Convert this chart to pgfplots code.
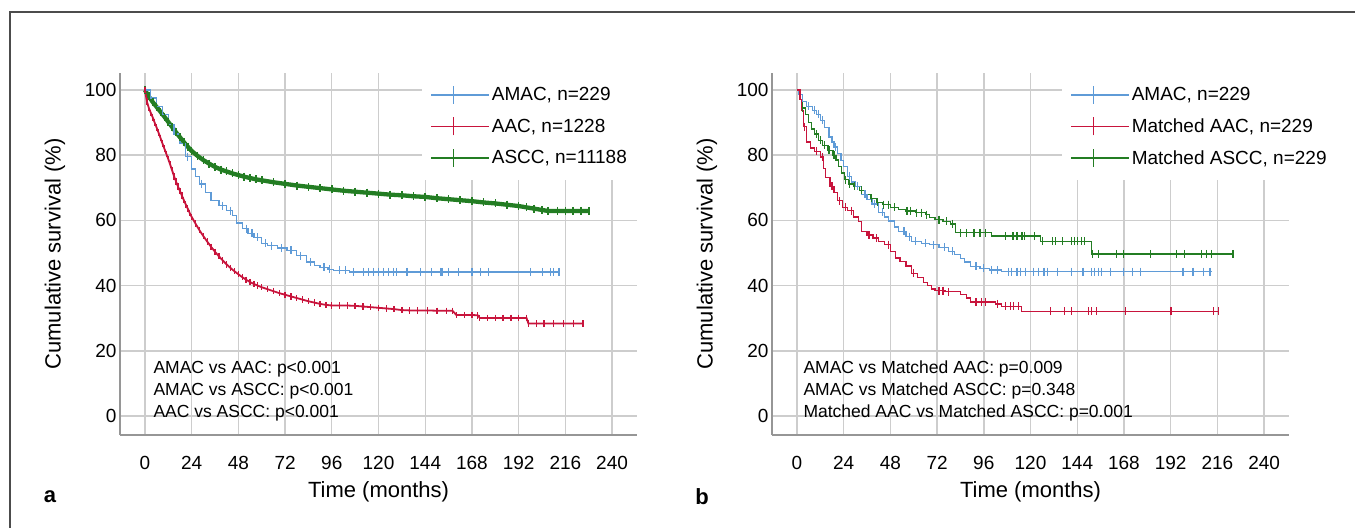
\documentclass[border=0pt]{standalone}
\usepackage{fontspec}
\setmainfont{Liberation Sans}
\usepackage{pgfplots}
\pgfplotsset{compat=1.18}

\definecolor{kmblue}{RGB}{95,155,215}
\definecolor{kmred}{RGB}{200,20,60}
\definecolor{kmgreen}{RGB}{35,125,35}
\definecolor{gridc}{RGB}{205,205,205}
\definecolor{axc}{RGB}{150,150,150}

\newcommand{\tck}{\fontsize{19bp}{22bp}\selectfont}
\newcommand{\lbl}{\fontsize{22bp}{26bp}\selectfont}
\newcommand{\ann}{\fontsize{17.5bp}{21bp}\selectfont}

\pgfplotsset{
  km/.style={
    scale only axis, width=517bp, height=362bp,
    xmin=-12.8, xmax=252.8, ymin=-5.8, ymax=105.2,
    xtick={0,24,...,240}, ytick={0,20,...,100},
    axis x line*=bottom, axis y line*=left,
    axis line style={axc, line width=1.3bp, -},
    grid=major, major grid style={gridc, line width=1.4bp},
    major tick length=0pt,
    tick label style={font=\tck},
    /pgf/number format/assume math mode=true,
    xticklabel style={yshift=-18bp},
    xlabel={Time (months)}, ylabel={Cumulative survival (\%)},
    label style={font=\lbl},
    xlabel style={at={(axis description cs:0.5,-0.1575)}, anchor=center},
    ylabel style={at={(axis description cs:-0.1257,0.5)}, anchor=center},
    legend style={draw=none, fill=white, font=\tck, inner xsep=8bp, inner ysep=12bp, row sep=12bp},
    legend cell align=left,
    legend image code/.code={\path (0bp,0bp) -- (58bp,0bp); \draw[#1] (0bp,0bp) -- (45bp,0bp); \draw[#1] (22.5bp,-9bp) -- (22.5bp,9bp);},
  },
  cens/.style={only marks, mark=|, mark size=4bp, mark options={line width=1.2bp}, forget plot},
}

\begin{document}
\begin{tikzpicture}[x=1bp,y=1bp]
\useasboundingbox (0,0) rectangle (1355,528);
\draw[line width=2bp, black!70] (10,0) -- (10,516) -- (1355,516);

% panel a
\begin{axis}[km, at={(120bp,93bp)}, anchor=south west,
  legend style={at={(0.5844,1)}, anchor=north west}]
\addlegendimage{kmblue, line width=1.5bp}
\addlegendentry{AMAC, n=229}
\addlegendimage{kmred, line width=1.5bp}
\addlegendentry{AAC, n=1228}
\addlegendimage{kmgreen, line width=1.5bp}
\addlegendentry{ASCC, n=11188}

\addplot[kmgreen, line width=4.3bp, mark=|, mark size=4bp, mark options={line width=1.6bp}, forget plot] coordinates {
(0,100)(2,98)(4,96.3)(6,94.8)(8,93.3)(10,91.8)(12,90.2)(14,88.6)(16,87)(18,85.5)(20,84)(22,82.6)(24,81.3)(27,79.8)(30,78.5)(33,77.4)(36,76.4)(39,75.6)(42,75)(45,74.4)(48,73.9)(51,73.4)(54,73)(57,72.6)(60,72.3)(66,71.7)(72,71.2)(78,70.7)(84,70.3)(90,69.9)(96,69.5)(102,69.1)(108,68.8)(114,68.5)(120,68.2)(126,67.9)(132,67.7)(138,67.4)(144,67.2)(150,66.8)(156,66.5)(162,66.2)(168,65.9)(174,65.5)(180,65.2)(186,64.8)(192,64.4)(196,64)(200,63.6)(204,63.2)(207,62.9)(212,62.9)(216,62.9)(220,62.9)(224,62.9)(228,62.9)
};
\addplot[kmblue, line width=1.3bp, const plot, forget plot] coordinates {
(0,100)(3,97.5)(6,95)(9,92.5)(12,89.5)(15,86.5)(18,83.5)(21,79.5)(24,75.8)(26,73.5)(28,71.2)(31,68.5)(34,66)(38,64.5)(42,63)(45,61.5)(47,59.2)(50,57.5)(53,56)(56,54.8)(60,53)(63,52.3)(68,51.5)(73,50.8)(78,49.2)(83,47.2)(87,46.2)(90,45.6)(94,45)(97,44.7)(105,44.2)(213,44.2)
};
\addplot[kmblue, cens] coordinates {
(22,79.5)(29,71.2)(40,64.5)(44,63)(52,57.5)(55,56)(58,54.8)(62,53)(65,52.3)(70,51.5)(75,50.8)(80,49.2)(85,47.2)(92,45.6)(95,45)(100,44.7)(103,44.7)(107,44.2)
(112.3,44.2)(114.9,44.2)(117.4,44.2)(120,44.2)(122.6,44.2)(125.1,44.2)(127.7,44.2)(129.4,44.2)(134.6,44.2)(141.4,44.2)(147.4,44.2)(151.7,44.2)(152.6,44.2)(156,44.2)(161.2,44.2)(168,44.2)(172.3,44.2)(176.6,44.2)(198.1,44.2)(204.1,44.2)(208.4,44.2)(210.1,44.2)(212.7,44.2)
};
\addplot[kmred, line width=1.8bp, mark=|, mark size=3.2bp, mark options={line width=1.3bp}, forget plot] coordinates {
(0,100)(1,96.5)(2,94.5)(3,93)(4,91.6)(5,90)(6,88.5)(7,86.9)(8,85.3)(9,83.6)(10,82)(11,80.4)(12,78.8)(13,77.1)(14,75.3)(15,73.5)(16,71.9)(17,70.4)(18,69)(19,67.6)(20,66.2)(21,64.9)(22,63.6)(23,62.3)(24,61.1)(26,59)(28,57)(30,55.2)(32,53.5)(34,51.9)(36,50.4)(38,49)(40,47.7)(42,46.5)(44,45.4)(46,44.4)(48,43.5)(50,42.6)(52,41.8)(54,41.1)(56,40.5)(58,40)(60,39.5)(63,38.9)(66,38.3)(69,37.7)(72,37.2)(75,36.7)(78,36.2)(81,35.7)(84,35.2)(87,34.8)(90,34.4)(93,34.1)(96,33.9)(100,33.9)(104,33.9)(108,33.8)(112,33.6)(116,33.4)(120,33.2)(124,33)(128,32.8)(132,32.5)(136,32.4)(140,32.4)(145,32.4)(150,32.3)(155,32.3)(158,32.3)(160,31.0)(164,31.0)(168,31.0)(171,30.9)(172,30.1)(176,30.1)(180,30.1)(184,30.1)(188,30.1)(192,30.1)(196,30.1)(197,28.4)(201,28.4)(205,28.4)(210,28.4)(215,28.4)(220,28.4)(225,28.4)
};
\end{axis}

% panel b
\begin{axis}[km, at={(772bp,93bp)}, anchor=south west,
  legend style={at={(0.561,1)}, anchor=north west}]
\addlegendimage{kmblue, line width=1.5bp}
\addlegendentry{AMAC, n=229}
\addlegendimage{kmred, line width=1.5bp}
\addlegendentry{Matched AAC, n=229}
\addlegendimage{kmgreen, line width=1.5bp}
\addlegendentry{Matched ASCC, n=229}

\addplot[kmgreen, line width=1.3bp, const plot, forget plot] coordinates {
(0,100)(1.5,97)(3,94.5)(4.5,92.5)(6,90)(7.5,88)(9,86.5)(11,84.5)(13,83)(16,81.5)(18.5,80)(20,78.5)(21.5,76.5)(23,74.5)(24.5,72.5)(26.5,71.2)(29,70.4)(32,69.2)(35,68)(38,66.8)(41,65.5)(44,64.8)(48,64)(52,63.4)(56,62.9)(61,62.4)(66,61.8)(68,60.9)(71,60.2)(75,59.7)(79,58.9)(81.5,56.2)(100,55.2)(125,53.6)(151.5,49.7)(224,49.7)
};
\addplot[kmgreen, cens] coordinates {
(3,94.5)(10,86.5)(12,84.5)(14,83)(16.5,81.5)(19,80)(25,72.5)(27,71.2)(29.5,70.4)(33,69.2)(38.5,66.8)(41.5,65.5)(44.5,64.8)(47,64.8)(50,64)(56.5,62.9)(58.5,62.9)(61.5,62.4)(64,62.4)(66.5,61.8)(73,60.2)(77,59.7)(80,58.9)(84,56.2)(87,56.2)(91,56.2)(94,56.2)(97,56.2)
(107,55.2)(111,55.2)(113,55.2)(115.6,55.2)(117,55.2)(122.2,55.2)(126.1,53.6)(131.3,53.6)(133,53.6)(136.5,53.6)(140.9,53.6)(142.6,53.6)(144.3,53.6)(146.1,53.6)(147.8,53.6)(152,49.7)(154.8,49.7)(164.3,49.7)(167.8,49.7)(181.7,49.7)(194.8,49.7)(199.1,49.7)(207.8,49.7)(210.4,49.7)(213,49.7)(224,49.7)
};
\addplot[kmblue, line width=1.3bp, const plot, forget plot] coordinates {
(0,100)(1,98.5)(3,96.5)(5,95)(8,93.8)(10,92.5)(12,90.7)(14,88.5)(16.5,85.6)(18,84)(19,82.5)(21,80.5)(22.6,78.4)(24,76.5)(26,73.5)(28,71.8)(30,70.5)(33,68)(36,66.5)(38.5,65)(42,62.5)(45,61)(47,59.8)(50,58)(52,56.7)(56,55)(59,53.6)(64,53)(68,52.6)(73,51.7)(78,50.5)(81,49.5)(84,48.4)(86,47.2)(89,45.9)(94,45.3)(99,44.8)(105,44.3)(213,44.3)
};
\addplot[kmblue, cens] coordinates {
(6,95)(9,93.8)(11,92.5)(13,90.7)(20,82.5)(27,73.5)(31,70.5)(35,68)(40,65)(44,62.5)(55,56.7)(58,55)(61,53.6)(66,53)(70,52.6)(76,51.7)(80,50.5)(92,45.9)(96,45.3)(100,44.8)(103,44.8)
(108.7,44.3)(110.4,44.3)(113,44.3)(114.8,44.3)(117.4,44.3)(121.7,44.3)(124.3,44.3)(126.9,44.3)(128.7,44.3)(133.9,44.3)(140.9,44.3)(147,44.3)(151.3,44.3)(153,44.3)(154.8,44.3)(156.5,44.3)(160.9,44.3)(167.8,44.3)(172.2,44.3)(176.5,44.3)(198.3,44.3)(203.5,44.3)(208.7,44.3)(212.2,44.3)
};
\addplot[kmred, line width=1.3bp, const plot, forget plot] coordinates {
(0,100)(1.5,97)(2.5,93.8)(3.5,88.7)(5,84)(7,82.2)(9,81.2)(12,79.4)(13.5,76)(14.5,73.2)(17,70.5)(19,68.5)(21,66)(23.5,64)(26,63)(29,61)(31.5,59.6)(33,56.6)(36,55.5)(39,54.6)(42,53.5)(45,52.6)(48,50.5)(50.5,48.5)(53,47.5)(56,46)(59,43.8)(62,42.5)(65,41)(67,40)(69,39)(71,38.5)(76,38.1)(84,37.2)(87,36.2)(89,35)(102,34.4)(105,33.6)(115.5,32.1)(217,32.1)
};
\addplot[kmred, cens] coordinates {
(4,88.7)(10,81.2)(13,79.4)(18,70.5)(22,66)(25,64)(28,63)(37,55.5)(41,54.6)(47,52.6)(60,43.8)(73,38.5)(75,38.5)(78,38.1)(92,35)(95,35)(97,35)(103,34.4)(107,33.6)(109.6,33.6)(111.3,33.6)(113.9,33.6)
(130.4,32.1)(137.4,32.1)(140.9,32.1)(149.6,32.1)(151.3,32.1)(153.9,32.1)(168.7,32.1)(192.2,32.1)(213.9,32.1)(216.5,32.1)
};
\end{axis}

\node[anchor=west, font=\ann] at (150,159) {AMAC vs AAC: p<0.001};
\node[anchor=west, font=\ann] at (150,137) {AMAC vs ASCC: p<0.001};
\node[anchor=west, font=\ann] at (150,115) {AAC vs ASCC: p<0.001};
\node[anchor=west, font=\ann] at (800,159) {AMAC vs Matched AAC: p=0.009};
\node[anchor=west, font=\ann] at (800,137) {AMAC vs Matched ASCC: p=0.348};
\node[anchor=west, font=\ann] at (800,115) {Matched AAC vs Matched ASCC: p=0.001};
\node[font=\lbl\bfseries] at (50,31) {a};
\node[font=\lbl\bfseries] at (702,31) {b};
\end{tikzpicture}
\end{document}
